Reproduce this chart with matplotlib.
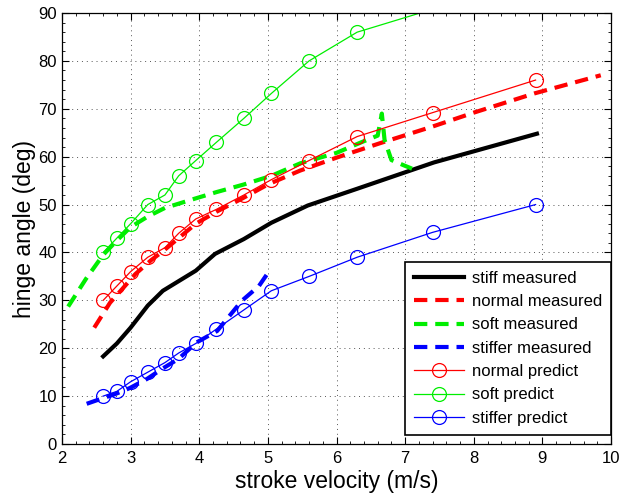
import numpy as np
import matplotlib.pyplot as plt
from matplotlib.ticker import MultipleLocator

plt.rcParams['font.family'] = ['Liberation Sans', 'DejaVu Sans']

# predicted curves share the same velocity samples
v_pred = [2.6, 2.8, 3.0, 3.25, 3.5, 3.7, 3.95, 4.25, 4.65, 5.05, 5.6, 6.3, 7.4, 8.9]
normal_pred = [30, 33, 36, 39, 41, 44, 47, 49, 52, 55.2, 59.2, 64.2, 69.2, 76]
soft_pred = [40, 43, 46, 50, 52, 56, 59.2, 63, 68, 73.2, 80, 86, 90.8, 97]
stiffer_pred = [10, 11, 13, 15, 17, 19, 21, 24, 28, 32, 35, 39, 44.2, 50]

# measured curves
v_stiff = [2.6, 2.8, 3.0, 3.25, 3.47, 3.95, 4.23, 4.65, 5.05, 5.58, 6.3, 7.42, 8.92]
stiff_meas = [18.3, 21, 24.3, 28.9, 32, 36.2, 39.7, 42.8, 46.2, 49.8, 53.3, 58.8, 64.8]

v_normal = [2.47, 2.7, 2.88, 3.07, 3.3, 3.5, 3.7, 3.95, 4.25, 4.63, 5.0, 5.47, 6.0, 6.63, 7.4, 8.0, 8.88, 9.85]
normal_meas = [24.3, 29.5, 32.4, 35.5, 38.4, 40.6, 43, 46, 48.5, 51.3, 54.2, 57.1, 59.8, 62.8, 66.3, 69.2, 73.2, 77]

v_soft = [2.09, 2.35, 2.6, 2.8, 3.0, 3.25, 3.5, 3.95, 4.25, 4.65, 5.05, 5.47, 6.0, 6.36, 6.6, 6.66, 6.7, 6.8, 6.98, 7.1]
soft_meas = [28.7, 34.5, 39.5, 42.5, 45.3, 47.5, 49.3, 51.3, 52.6, 54.2, 56, 58.6, 60.8, 63, 64.4, 69, 63.5, 59.3, 58.2, 57.5]

v_stiffer = [2.36, 2.6, 2.77, 2.99, 3.24, 3.46, 3.7, 3.96, 4.26, 4.62, 4.87, 4.98]
stiffer_meas = [8.4, 9.6, 10.4, 11.7, 13.6, 15.7, 17.8, 21.2, 23.6, 29.9, 33, 35.3]

fig = plt.figure(figsize=(6.21, 4.97), dpi=100)
ax = fig.add_axes([0.0998, 0.1066, 0.8842, 0.8672])
ymax = 90


def inside(vals):
    # matlab style: markers whose centre lies outside the axes are not drawn
    return [i for i, y in enumerate(vals) if y <= ymax]


dash = (0, (3.2, 1.9))
lw_m = 3.0
ax.plot(v_stiff, stiff_meas, '-', color='black', lw=lw_m, label='stiff measured')
ax.plot(v_normal, normal_meas, color='red', lw=lw_m, ls=dash, label='normal measured')
ax.plot(v_soft, soft_meas, color='#00ee00', lw=lw_m, ls=dash, label='soft measured')
ax.plot(v_stiffer, stiffer_meas, color='#0000ff', lw=lw_m, ls=dash, label='stiffer measured')
for vals, col, name in [(normal_pred, 'red', 'normal predict'),
                        (soft_pred, '#00ee00', 'soft predict'),
                        (stiffer_pred, '#0000ff', 'stiffer predict')]:
    ax.plot(v_pred, vals, '-o', color=col, lw=0.9, ms=10, mfc='none', mew=0.9,
            markevery=inside(vals), label=name)

ax.set_xlim(2, 10)
ax.set_ylim(0, ymax)
ax.xaxis.set_major_locator(MultipleLocator(1))
ax.xaxis.set_minor_locator(MultipleLocator(0.2))
ax.yaxis.set_major_locator(MultipleLocator(10))
ax.yaxis.set_minor_locator(MultipleLocator(2))
ax.tick_params(which='both', direction='in', top=True, right=True, labelsize=12)
ax.tick_params(which='major', length=5, width=0.8)
ax.tick_params(axis='x', which='major', pad=5)
ax.tick_params(which='minor', length=2.5, width=0.6)
ax.grid(True, which='major', ls=(0, (1, 4)), color='#555555', lw=0.7)
for s in ax.spines.values():
    s.set_linewidth(0.9)

ax.set_xlabel('stroke velocity (m/s)', fontsize=16.5, labelpad=3)
ax.set_ylabel('hinge angle (deg)', fontsize=16.5, labelpad=2)

leg = ax.legend(loc='lower right', bbox_to_anchor=(1.0, 0.021), fontsize=12,
                fancybox=False, framealpha=1, edgecolor='black', borderaxespad=0,
                handlelength=3.0, handletextpad=0.45, labelspacing=0.5, borderpad=0.55)
leg.get_frame().set_linewidth(1.2)

fig.savefig('out.png', dpi=100)
